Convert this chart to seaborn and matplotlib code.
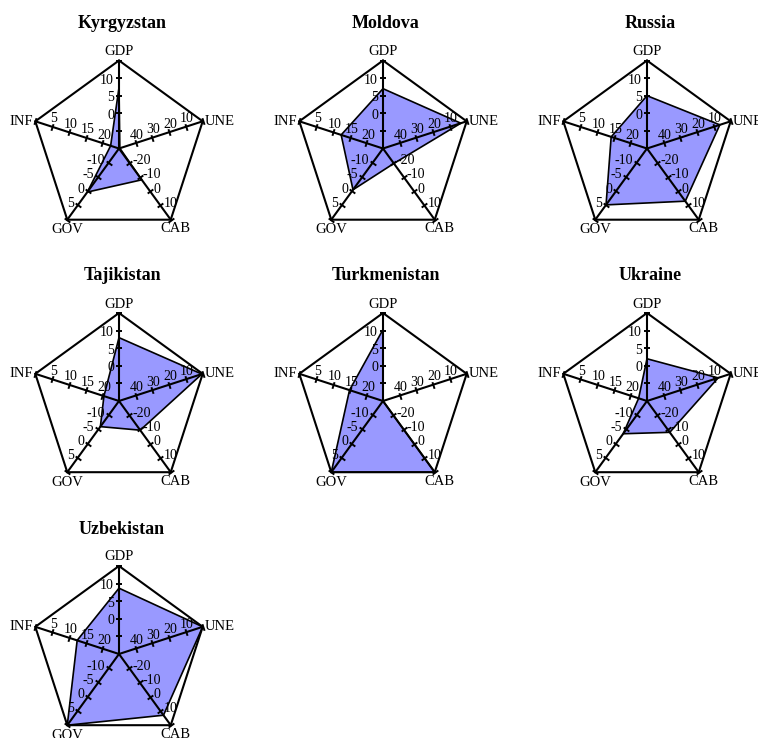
import numpy as np
import matplotlib
matplotlib.use("Agg")
import matplotlib.pyplot as plt
import seaborn as sns

# ---- data -------------------------------------------------------------
countries = ["Kyrgyzstan", "Moldova", "Russia", "Tajikistan",
             "Turkmenistan", "Ukraine", "Uzbekistan"]
variables = ["GDP", "UNE", "CAB", "GOV", "INF"]

gdp = [7.3, 7.0, 5.0, 8.0, 10.3, 2.0, 8.7]
une = [49.5, 3.5, 6.5, 0.5, 50.0, 7.5, 0.0]
cab = [-8.0, -19.5, 7.0, -9.5, 20.0, -8.0, 13.0]
gov = [0.3, -0.5, 4.8, -6.0, 10.0, -3.5, 10.0]
inf = [22.5, 12.5, 14.3, 20.5, 15.0, 22.5, 12.5]

# value at the centre and value at the outer vertex of each spoke
gdp_range = (-10, 15)
une_range = (50, 0)
cab_range = (-30, 20)
gov_range = (-15, 10)
inf_range = (25, 0)

gdp_ticks = [-5, 0, 5, 10, 15]
une_ticks = [40, 30, 20, 10, 0]
cab_ticks = [-20, -10, 0, 10, 20]
gov_ticks = [-10, -5, 0, 5, 10]
inf_ticks = [20, 15, 10, 5, 0]

gdp_labels = ["", "0", "5", "10", ""]
une_labels = ["40", "30", "20", "10", ""]
cab_labels = ["-20", "-10", "0", "10", ""]
gov_labels = ["-10", "-5", "0", "5", ""]
inf_labels = ["20", "15", "10", "5", ""]

values = {"GDP": gdp, "UNE": une, "CAB": cab, "GOV": gov, "INF": inf}
ranges = {"GDP": gdp_range, "UNE": une_range, "CAB": cab_range,
          "GOV": gov_range, "INF": inf_range}
ticks = {"GDP": gdp_ticks, "UNE": une_ticks, "CAB": cab_ticks,
         "GOV": gov_ticks, "INF": inf_ticks}
labels = {"GDP": gdp_labels, "UNE": une_labels, "CAB": cab_labels,
          "GOV": gov_labels, "INF": inf_labels}

# ---- style ------------------------------------------------------------
sns.set_theme(style="white")
plt.rcParams["font.family"] = ["Liberation Serif", "DejaVu Serif"]

FILL = "#9999ff"
LW = 1.5

# spoke directions (degrees, counter-clockwise from east)
spoke_deg = {"GDP": 90, "UNE": 18, "CAB": -54, "GOV": -126, "INF": 162}
# tick-label placement per spoke: (dx, dy) in pixels, horizontal alignment
tick_txt = {"GDP": ((-5, -2), "right"), "UNE": ((1, 8), "center"),
            "CAB": ((3, 2), "left"), "GOV": ((-4, 2), "right"),
            "INF": ((2, 8), "center")}
# spoke-name placement
name_txt = {"GDP": ((0, 9), "center"), "UNE": ((2, 0), "left"),
            "CAB": ((5, -9), "center"), "GOV": ((0, -10), "center"),
            "INF": ((-2, 0), "right")}


def norm(var, v):
    lo, hi = ranges[var]
    return np.clip((np.asarray(v, float) - lo) / (hi - lo), 0, 1)


W, H = 758, 738
fig = plt.figure(figsize=(W / 100, H / 100), dpi=100)
fig.patch.set_facecolor("white")

R = 88
col_x = [119, 383, 647]
row_y = [148.5, 401, 654]

for i, country in enumerate(countries):
    cx = col_x[i % 3]
    cy = row_y[i // 3]
    ax = fig.add_axes([(cx - R) / W, 1 - (cy + R) / H, 2 * R / W, 2 * R / H],
                      projection="polar")
    ax.set_axis_off()
    ax.set_ylim(0, 1)

    theta = np.deg2rad([spoke_deg[v] for v in variables])
    theta_c = np.append(theta, theta[0])

    # data polygon
    r = np.array([norm(v, values[v][i]) for v in variables])
    r_c = np.append(r, r[0])
    ax.fill(theta_c, r_c, color=FILL, zorder=1, clip_on=False, lw=0)

    # outer pentagon
    ax.plot(theta_c, np.ones(6), color="black", lw=LW, zorder=2,
            clip_on=False, solid_joinstyle="miter")

    # spokes with ticks and labels
    for var, th in zip(variables, theta):
        ax.plot([th, th], [0, 1], color="black", lw=LW, zorder=2,
                clip_on=False)
        tr = norm(var, ticks[var])
        ax.plot(np.full(len(tr), th), tr, ls="none",
                marker=(2, 0, spoke_deg[var]), ms=5, mew=1.4,
                color="black", zorder=3, clip_on=False)
        (dx, dy), ha = tick_txt[var]
        for rr, lab in zip(tr, labels[var]):
            if lab:
                ax.annotate(lab, xy=(th, rr), xytext=(dx, dy),
                            textcoords="offset pixels", ha=ha, va="center",
                            fontsize=10, color="black", zorder=4,
                            annotation_clip=False)
        (dx, dy), ha = name_txt[var]
        ax.annotate(var, xy=(th, 1), xytext=(dx, dy),
                    textcoords="offset pixels", ha=ha, va="center",
                    fontsize=10.5, color="black", annotation_clip=False)

    # polygon outline on top
    ax.plot(theta_c, r_c, color="black", lw=1.2, zorder=3, clip_on=False)

    ax.text(0.5 + 3 / (2 * R), 1 + 37 / (2 * R), country,
            transform=ax.transAxes, ha="center", va="center",
            fontsize=13, fontweight="bold", color="black")

fig.savefig("out.png", dpi=100, facecolor="white")
